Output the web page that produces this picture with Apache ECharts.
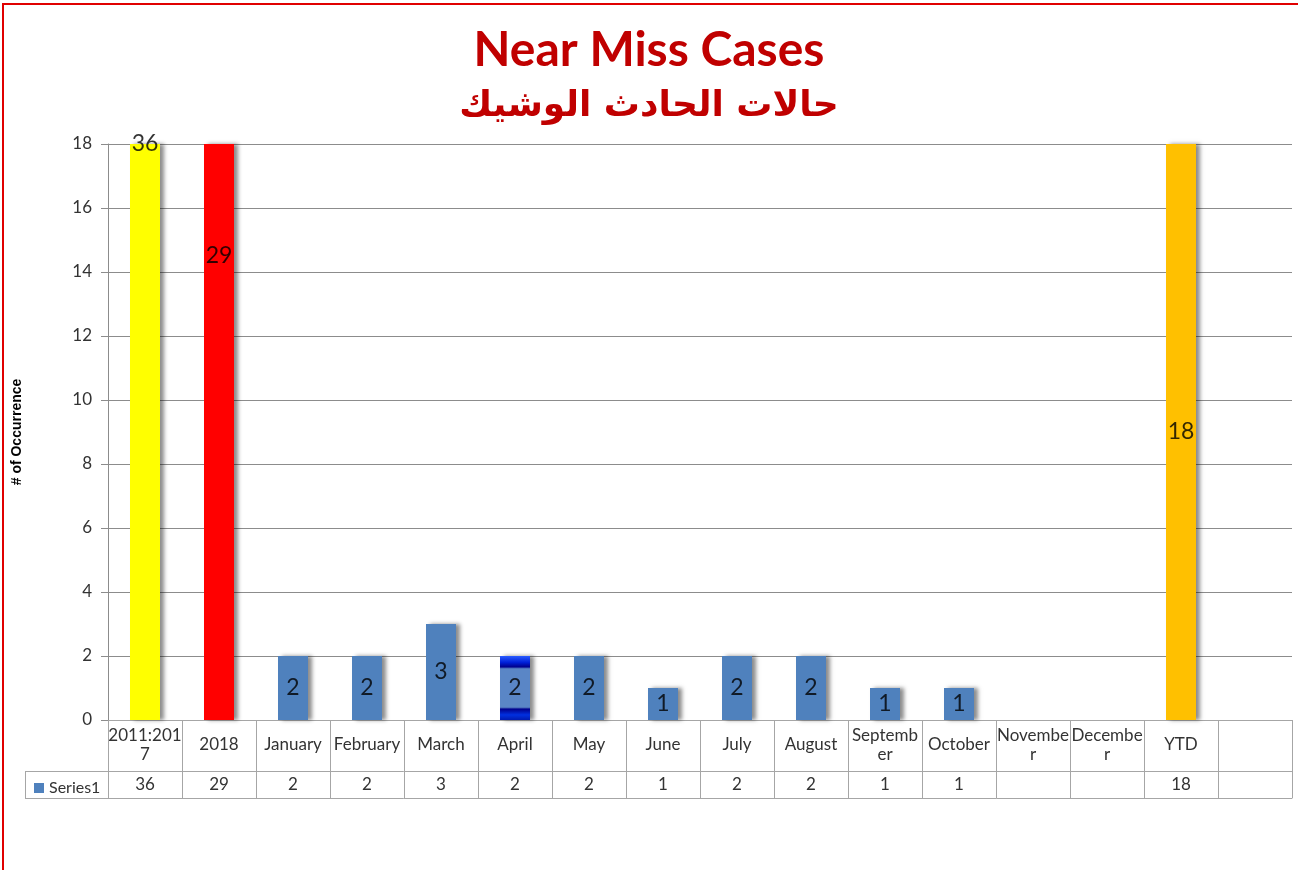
<!DOCTYPE html>
<html>
<head>
<meta charset="utf-8">
<title>Near Miss Cases</title>
<script src="https://cdn.jsdelivr.net/npm/echarts@6/dist/echarts.min.js"></script>
<style>
  html, body { margin: 0; padding: 0; background: #fff; overflow: hidden; }
  #chart { position: absolute; left: 0; top: 0; width: 1298px; height: 870px; }
  .frame {
    position: absolute; left: 2px; top: 3px; width: 1400px; height: 1000px;
    border-left: 2px solid #e00000; border-top: 2px solid #e00000;
    pointer-events: none;
  }
</style>
</head>
<body>
<div id="chart"></div>
<div class="frame"></div>
<script>
// categories (last column is empty in the original data table)
const categories = ['2011:2017', '2018', 'January', 'February', 'March', 'April', 'May', 'June',
  'July', 'August', 'September', 'October', 'November', 'December', 'YTD', '']
// Series1 values, null = no value
const series1 = [36, 29, 2, 2, 3, 2, 2, 1, 2, 2, 1, 1, null, null, 18, null]
const yTicks = [0, 2, 4, 6, 8, 10, 12, 14, 16, 18]

const titleText = 'Near Miss Cases'
const titleArabic = 'حالات الحادث الوشيك'

// bar colours per category
const monthBlue = '#4f81bd'
const specialColors = {
  '2011:2017': '#ffff00',
  '2018': '#ff0000',
  'YTD': '#ffc000'
}
// April bar has the odd highlighted look
const aprilFill = new echarts.graphic.LinearGradient(0, 0, 0, 1, [
  { offset: 0, color: '#2a5cff' },
  { offset: 0.1, color: '#0020d8' },
  { offset: 0.17, color: '#00008c' },
  { offset: 0.2, color: '#5a86c6' },
  { offset: 0.8, color: '#5a86c6' },
  { offset: 0.83, color: '#00008c' },
  { offset: 0.92, color: '#0030e0' },
  { offset: 1, color: '#001ab0' }
])

const textColor = '#333'
const tableLine = '#a6a6a6'
const font = 'Lato'

let barData = series1.map((v, i) => {
  let c = categories[i]
  let color = specialColors[c] || monthBlue
  if (c === 'April') color = aprilFill
  return { value: v, itemStyle: { color: color } }
})

// labels sit in the middle of the full (unclipped) bar, like Excel does
let labelData = []
series1.forEach((v, i) => {
  if (v !== null) labelData.push({ value: [i, v / 2, v] })
})

let option = {
  animation: false,
  title: [
    {
      text: titleText,
      left: 'center',
      top: 22,
      textStyle: { fontFamily: font, fontWeight: 'bold', fontSize: 48, color: '#c00000' }
    },
    {
      text: titleArabic,
      left: 'center',
      top: 84,
      textStyle: { fontFamily: 'DejaVu Sans', fontWeight: 'bold', fontSize: 36, color: '#c00000' }
    }
  ],
  legend: {
    data: ['Series1'],
    left: 29,
    top: 775,
    icon: 'rect',
    itemWidth: 10,
    itemHeight: 10,
    itemGap: 4,
    textStyle: { fontFamily: font, fontSize: 16, color: textColor }
  },
  grid: {
    left: 108,
    right: 6,
    top: 144,
    bottom: 150
  },
  xAxis: [
    {
      // first table row: category names
      type: 'category',
      data: categories,
      position: 'bottom',
      axisLine: { show: true, lineStyle: { color: tableLine } },
      axisTick: { show: true, interval: 0, length: 78, lineStyle: { color: tableLine } },
      axisLabel: {
        interval: 0,
        margin: 25,
        verticalAlign: 'middle',
        width: 74,
        overflow: 'breakAll',
        lineHeight: 19,
        fontFamily: font,
        fontSize: 17,
        color: textColor
      }
    },
    {
      // second table row: the values
      type: 'category',
      data: series1.map(v => v === null ? '' : String(v)),
      position: 'bottom',
      offset: 51,
      axisLine: { show: true, lineStyle: { color: tableLine } },
      axisTick: { show: false },
      axisLabel: {
        interval: 0,
        margin: 14,
        verticalAlign: 'middle',
        fontFamily: font,
        fontSize: 17,
        color: textColor
      }
    },
    {
      // bottom edge of the table
      type: 'category',
      data: categories,
      position: 'bottom',
      offset: 78,
      axisLine: { show: true, lineStyle: { color: tableLine } },
      axisTick: { show: false },
      axisLabel: { show: false }
    }
  ],
  yAxis: {
    type: 'value',
    min: yTicks[0],
    max: yTicks[yTicks.length - 1],
    interval: 2,
    name: '# of Occurrence',
    nameLocation: 'middle',
    nameGap: 84,
    nameTextStyle: { fontFamily: 'Liberation Sans', fontWeight: 'bold', fontSize: 14, color: '#000' },
    axisLine: { show: true, lineStyle: { color: '#8c8c8c' } },
    axisTick: { show: true, length: 7, lineStyle: { color: '#8c8c8c' } },
    axisLabel: { margin: 16, fontFamily: font, fontSize: 17, color: textColor },
    splitLine: { lineStyle: { color: '#8c8c8c', width: 1 } }
  },
  graphic: [
    // legend key cell to the left of the value row
    { type: 'line', shape: { x1: 25, y1: 771.5, x2: 108, y2: 771.5 }, style: { stroke: tableLine, lineWidth: 1 } },
    { type: 'line', shape: { x1: 25, y1: 798.5, x2: 108, y2: 798.5 }, style: { stroke: tableLine, lineWidth: 1 } },
    { type: 'line', shape: { x1: 25.5, y1: 771, x2: 25.5, y2: 798 }, style: { stroke: tableLine, lineWidth: 1 } }
  ],
  series: [
    {
      name: 'Series1',
      type: 'bar',
      data: barData,
      barWidth: 30,
      clip: true,
      itemStyle: {
        color: monthBlue,
        shadowColor: 'rgba(0,0,0,0.45)',
        shadowBlur: 4,
        shadowOffsetX: 4,
        shadowOffsetY: 0
      },
      z: 2
    },
    {
      name: 'labels',
      type: 'scatter',
      data: labelData,
      symbolSize: 0,
      clip: false,
      silent: true,
      label: {
        show: true,
        position: 'inside',
        fontFamily: font,
        fontSize: 23,
        color: '#000',
        formatter: p => p.value[2]
      },
      z: 5
    }
  ]
}

echarts.init(document.getElementById('chart'), null, { renderer: 'canvas' }).setOption(option)
</script>
</body>
</html>
